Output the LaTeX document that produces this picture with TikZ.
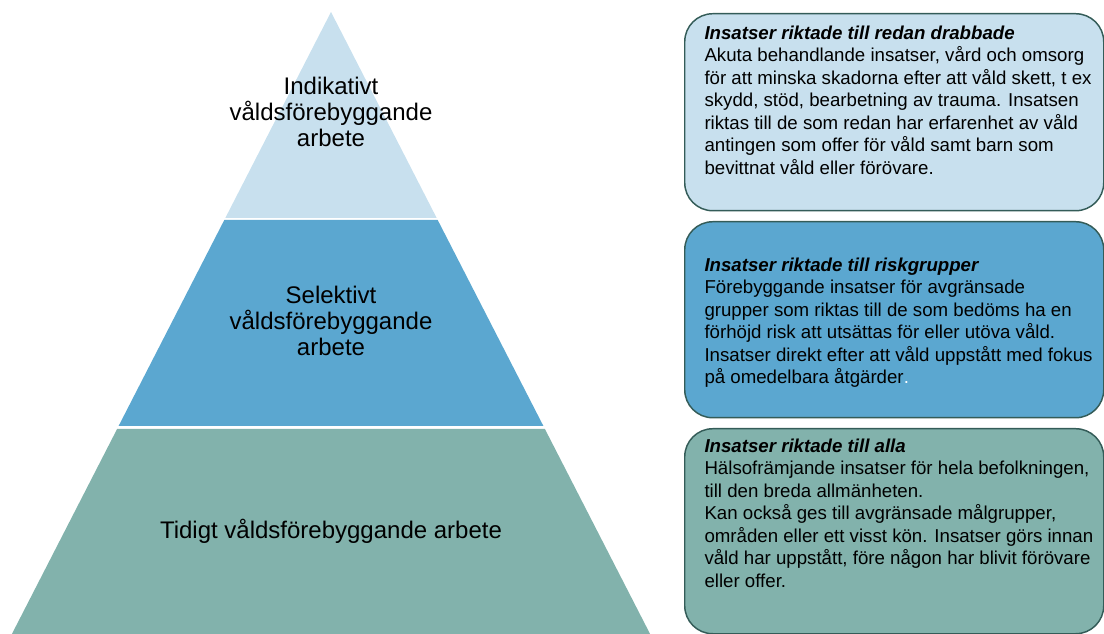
\documentclass[tikz,border=0pt]{standalone}
\usepackage{fontspec}
\setmainfont{Liberation Sans}

\definecolor{topblue}{RGB}{200,224,238}
\definecolor{midblue}{RGB}{91,167,208}
\definecolor{sage}{RGB}{130,178,172}
\definecolor{boxline}{RGB}{52,92,88}

\tikzset{every picture/.style={line width=0.75pt}}
\tikzset{
  levellabel/.style={align=center, inner sep=0.75pt, font=\fontsize{18}{19.5}\selectfont},
  infobox/.style={draw=boxline, line width=1.1pt, rounded corners=21pt, inner sep=0pt, anchor=north west},
  infotext/.style={anchor=north west, inner sep=0pt, align=left, font=\fontsize{14}{16.9}\selectfont},
}

\begin{document}
\begin{tikzpicture}[x=0.75pt,y=0.75pt,yscale=-1,xscale=1]
\useasboundingbox (0,0) rectangle (1104,634);

%Shape: Pyramid top
\fill [topblue] (331,12) -- (436.7,218) -- (225.3,218) -- cycle ;
%Shape: Pyramid middle
\fill [midblue] (224.3,220) -- (437.7,220) -- (543.4,426) -- (118.6,426) -- cycle ;
%Shape: Pyramid bottom
\fill [sage] (117.1,429) -- (544.9,429) -- (650.1,634) -- (11.9,634) -- cycle ;

% Text Node
\node [levellabel] (indikativ) at (331,112) {Indikativt\\våldsförebyggande\\arbete};
% Text Node
\node [levellabel] (selektiv) at (331,321) {Selektivt\\våldsförebyggande\\arbete};
% Text Node
\node [levellabel] (tidig) at (331,531) {Tidigt våldsförebyggande arbete};

%Rounded Rect
\node [infobox, fill=topblue, minimum width=314.25pt, minimum height=147.75pt] (drabbadebox) at (684,13) {};
%Rounded Rect
\node [infobox, fill=midblue, minimum width=314.25pt, minimum height=147pt] (riskbox) at (684,221) {};
%Rounded Rect
\node [infobox, fill=sage, minimum width=314.25pt, minimum height=153.75pt] (allabox) at (684,428) {};

% Text Node
\node [infotext] (drabbadetext) at (704,25) {\textbf{\textit{Insatser riktade till redan drabbade}}\\Akuta behandlande insatser, vård och omsorg\\för att minska skadorna efter att våld skett, t ex\\skydd, stöd, bearbetning av trauma. Insatsen\\riktas till de som redan har erfarenhet av våld\\antingen som offer för våld samt barn som\\bevittnat våld eller förövare.};
% Text Node
\node [infotext] (risktext) at (704,257) {\textbf{\textit{Insatser riktade till riskgrupper}}\\Förebyggande insatser för avgränsade\\grupper som riktas till de som bedöms ha en\\förhöjd risk att utsättas för eller utöva våld.\\Insatser direkt efter att våld uppstått med fokus\\på omedelbara åtgärder\textcolor{white}{.}};
% Text Node
\node [infotext] (allatext) at (704,438) {\textbf{\textit{Insatser riktade till alla}}\\Hälsofrämjande insatser för hela befolkningen,\\till den breda allmänheten.\\Kan också ges till avgränsade målgrupper,\\områden eller ett visst kön. Insatser görs innan\\våld har uppstått, före någon har blivit förövare\\eller offer.};

\end{tikzpicture}
\end{document}
